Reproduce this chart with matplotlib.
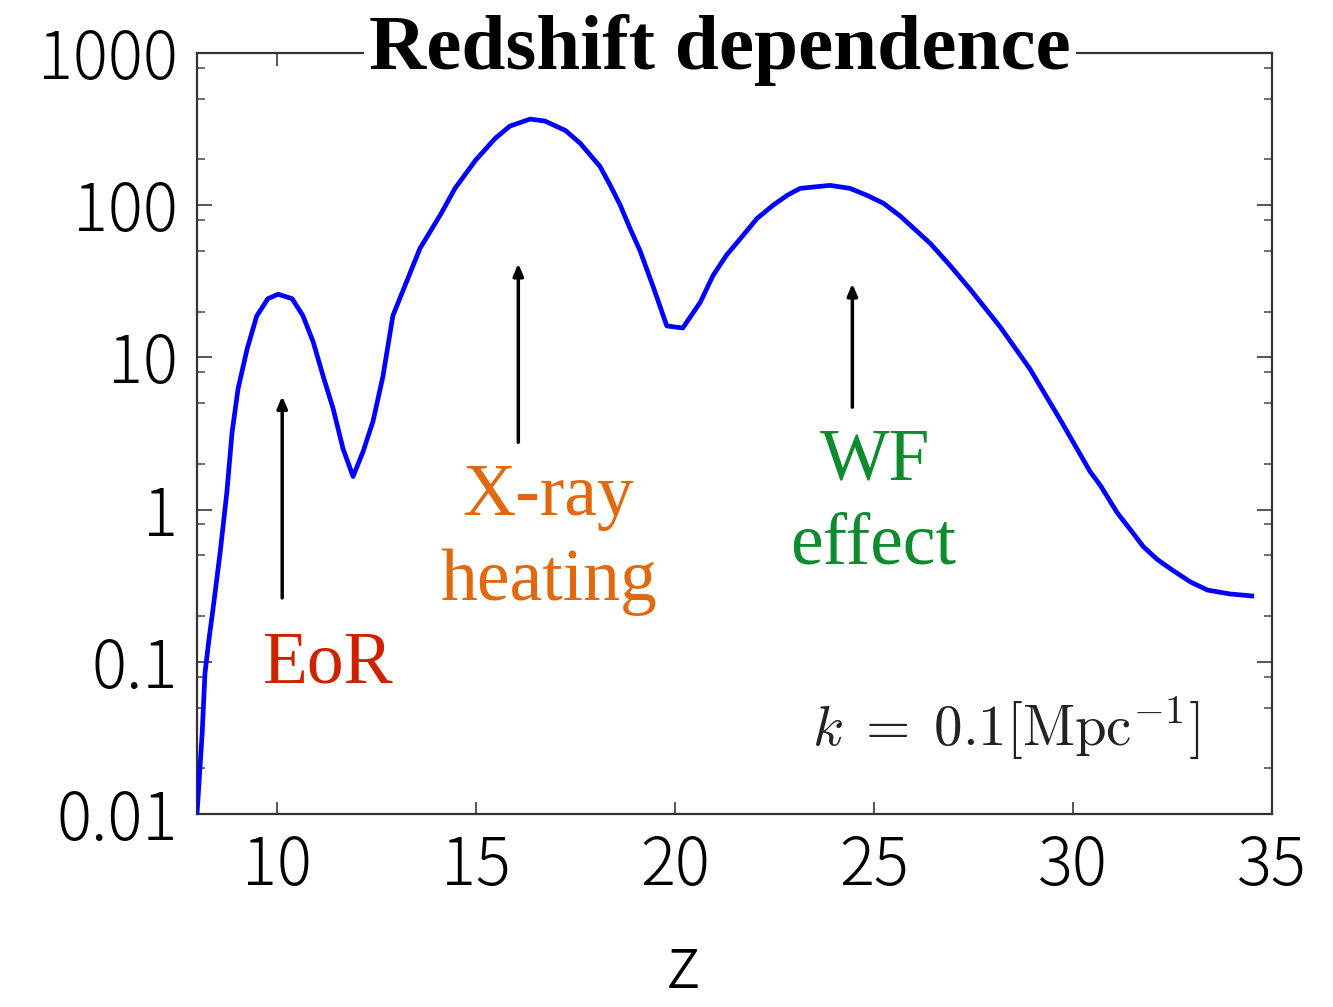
import matplotlib
matplotlib.use('Agg')
import matplotlib.pyplot as plt
from matplotlib.ticker import LogLocator, NullFormatter, FixedLocator, FixedFormatter

plt.rcParams['mathtext.fontset'] = 'cm'

# ── data: power spectrum vs redshift ──
z = [8.0, 8.13, 8.2, 8.3, 8.4, 8.58, 8.75, 8.88, 9.03, 9.26, 9.5, 9.78,
     10.04, 10.39, 10.66, 10.92, 11.17, 11.42, 11.67, 11.92, 12.17, 12.42,
     12.67, 12.92, 13.6, 14.13, 14.48, 15.0, 15.49, 15.86, 16.37, 16.74,
     17.25, 17.62, 18.12, 18.38, 18.63, 18.88, 19.13, 19.47, 19.8, 20.2,
     20.64, 20.96, 21.3, 21.64, 22.07, 22.47, 22.82, 23.15, 23.9, 24.4,
     24.83, 25.24, 25.66, 26.42, 26.92, 27.42, 28.17, 28.92, 29.68, 30.43,
     30.69, 31.11, 31.44, 31.77, 32.12, 32.5, 32.95, 33.38, 33.95, 34.55]
power = [0.01, 0.034, 0.084, 0.14, 0.22, 0.52, 1.3, 3.2, 6.2, 11.4, 18.7, 24.3,
         26, 24.3, 18.8, 12.6, 7.5, 4.6, 2.5, 1.65, 2.4, 3.8,
         7.5, 18.8, 52, 88, 129, 198, 275, 331, 368, 357,
         310, 256, 180, 135, 100, 70, 50, 28.5, 16.1, 15.6,
         23, 34.5, 47, 60, 82, 100, 116, 129, 135, 129,
         116, 103, 85, 56, 40, 28, 15.9, 8.4, 3.9, 1.78,
         1.44, 0.955, 0.74, 0.57, 0.47, 0.40, 0.335, 0.296, 0.279, 0.27]

xticks = [10, 15, 20, 25, 30, 35]
yticks = [0.01, 0.1, 1, 10, 100, 1000]
ytick_labels = ['0.01', '0.1', '1', '10', '100', '1000']

# arrows: (z, tail value, head value)
arrows = [(10.14, 0.263, 5.56), (16.07, 2.77, 41.3), (24.46, 4.71, 30.5)]

W, H = 1333, 1007
fig = plt.figure(figsize=(W / 100, H / 100), dpi=100)
ax = fig.add_axes([197 / W, 1 - 814 / H, (1272 - 197) / W, (814 - 53) / H])

ax.semilogy(z, power, color='#0000ff', lw=3.4, solid_joinstyle='round',
            solid_capstyle='butt', zorder=3)
ax.set_xlim(8, 35)
ax.set_ylim(0.01, 1000)

for s in ax.spines.values():
    s.set_color('#333333')
    s.set_linewidth(1.6)

ax.xaxis.set_major_locator(FixedLocator(xticks))
ax.yaxis.set_major_locator(FixedLocator(yticks))
ax.yaxis.set_major_formatter(FixedFormatter(ytick_labels))
ax.yaxis.set_minor_locator(LogLocator(base=10, subs=(2, 5, 8)))
ax.yaxis.set_minor_formatter(NullFormatter())
ax.xaxis.set_minor_locator(FixedLocator([]))

tick_font = 'Noto Sans CJK JP'
ax.tick_params(axis='both', which='major', direction='in', top=True, right=True,
               color='#555555', width=1.4, labelsize=47)
ax.tick_params(axis='y', which='major', length=11, pad=14)
ax.tick_params(axis='x', which='major', length=9, pad=14)
ax.tick_params(axis='y', which='minor', direction='in', right=True,
               length=6, width=1.2, color='#555555')
for lab in ax.get_xticklabels() + ax.get_yticklabels():
    lab.set_fontfamily(tick_font)
    lab.set_fontweight('light')

# arrows
for x0, y0, y1 in arrows:
    ax.annotate('', xy=(x0, y1), xytext=(x0, y0),
                arrowprops=dict(arrowstyle='-|>,head_length=0.7,head_width=0.3',
                                color='black', lw=2.5, shrinkA=0, shrinkB=0),
                zorder=4)

def T(px, py, s, size, color, **kw):
    fig.text(px / W, 1 - py / H, s, fontsize=size, color=color,
             ha='center', va='center', **kw)

serif = 'Liberation Serif'
T(328, 665, 'EoR', 53, '#cc2200', family=serif)
T(548, 497, 'X-ray', 53, '#e0690f', family=serif)
T(549, 582, 'heating', 53, '#e0690f', family=serif)
T(875, 462, 'WF', 53, '#108a2e', family=serif)
T(873, 546, 'effect', 53, '#108a2e', family=serif)
T(1006, 728, r'$k\;=\;0.1[\mathrm{Mpc}^{-1}]$', 41, '#222222')

# title sitting on the top spine
fig.text(720 / W, 1 - 50 / H, 'Redshift dependence', fontsize=57,
         fontweight='bold', family=serif, color='black', ha='center', va='center',
         bbox=dict(facecolor='white', edgecolor='none', pad=4), zorder=10)

# x label
fig.text(683 / W, 1 - 1006 / H, 'z', fontsize=52, family=tick_font,
         fontweight='light', ha='center', va='bottom')

fig.savefig('out.png', dpi=100, facecolor='white')
